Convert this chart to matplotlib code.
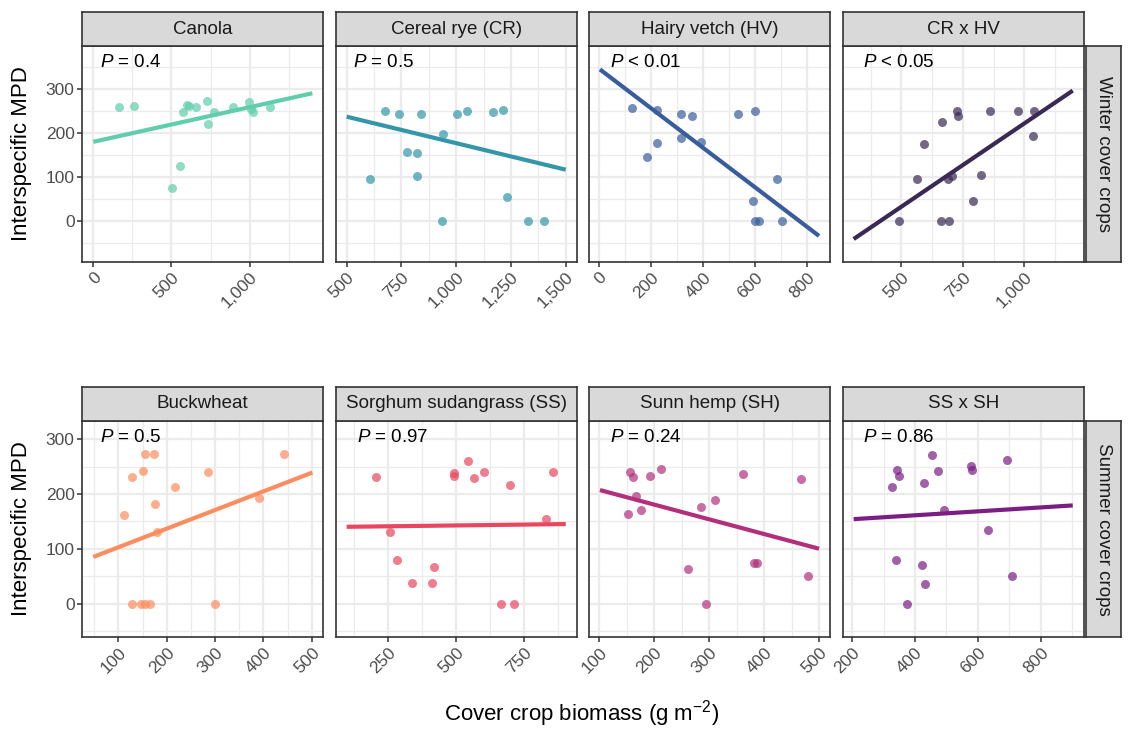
import matplotlib
matplotlib.use("Agg")
import matplotlib.pyplot as plt
from matplotlib.ticker import MultipleLocator, FuncFormatter

plt.rcParams['font.family'] = ['Liberation Sans', 'DejaVu Sans']
plt.rcParams['mathtext.fontset'] = 'custom'
plt.rcParams['mathtext.rm'] = 'Liberation Sans'
plt.rcParams['mathtext.it'] = 'Liberation Sans:italic'

# ---- data ----
crops = ["Canola", "Cereal rye (CR)", "Hairy vetch (HV)", "CR x HV",
         "Buckwheat", "Sorghum sudangrass (SS)", "Sunn hemp (SH)", "SS x SH"]
seasons = ["Winter cover crops", "Summer cover crops"]
p_labels = ["= 0.4", "= 0.5", "< 0.01", "< 0.05",
            "= 0.5", "= 0.97", "= 0.24", "= 0.86"]

canola_x = [166, 261, 501, 557, 576, 597, 613, 659, 726, 731, 773, 896, 996, 1009, 1022, 1132]
canola_y = [258, 262, 75, 125, 248, 264, 262, 259, 273, 220, 248, 260, 271, 254, 248, 260]
cr_x = [606, 673, 739, 774, 821, 821, 838, 935, 939, 1004, 1048, 1167, 1214, 1230, 1329, 1401]
cr_y = [97, 250, 242, 158, 154, 103, 242, 0, 198, 242, 249, 248, 251, 56, 0, 0]
hv_x = [128, 185, 223, 224, 314, 314, 356, 390, 533, 590, 601, 601, 615, 686, 705]
hv_y = [257, 145, 253, 178, 242, 188, 238, 179, 242, 47, 250, 0, 0, 97, 0]
crhv_x = [489, 565, 592, 660, 664, 688, 693, 704, 728, 730, 791, 822, 862, 974, 1035, 1038]
crhv_y = [0, 96, 175, 0, 226, 96, 0, 103, 250, 238, 47, 104, 250, 250, 194, 250]
buck_x = [111, 129, 129, 147, 150, 155, 155, 165, 173, 175, 179, 217, 286, 299, 391, 443]
buck_y = [162, 230, 0, 0, 241, 272, 0, 0, 272, 182, 131, 212, 240, 0, 193, 272]
ss_x = [204, 257, 282, 337, 411, 418, 491, 493, 542, 565, 602, 665, 697, 712, 829, 856]
ss_y = [231, 131, 79, 37, 37, 67, 238, 232, 260, 229, 240, 0, 216, 0, 154, 240]
sh_x = [152, 156, 162, 167, 176, 193, 212, 261, 285, 294, 310, 362, 382, 387, 468, 480]
sh_y = [163, 240, 231, 197, 171, 232, 246, 63, 176, 0, 188, 236, 74, 74, 227, 51]
sssh_x = [327, 339, 342, 350, 375, 422, 429, 431, 453, 474, 491, 578, 582, 632, 692, 710]
sssh_y = [212, 79, 243, 232, 0, 71, 220, 35, 271, 242, 171, 251, 243, 134, 262, 51]

# fitted regression lines (end points)
fit_x = [(0, 1401), (500, 1500), (3, 846), (306, 1197),
         (48, 501), (97, 903), (101, 500), (205, 902)]
fit_y = [(180, 290), (237, 117), (344, -33), (-40, 296),
         (85, 239), (140, 145), (207, 100), (154, 179)]

x_step = [500, 250, 200, 250, 100, 250, 100, 200]
row_ylim = [(-92, 397), (-61, 333)]

colors = ["#60CEAC", "#3497A9", "#395D9C", "#382A54",
          "#FB8D5F", "#E8485F", "#B2307B", "#7A1E84"]

xs = [canola_x, cr_x, hv_x, crhv_x, buck_x, ss_x, sh_x, sssh_x]
ys = [canola_y, cr_y, hv_y, crhv_y, buck_y, ss_y, sh_y, sssh_y]

# ---- layout (pixels) ----
W, H = 1131, 730
def rect(x0, y0, x1, y1):
    return [x0 / W, 1 - y1 / H, (x1 - x0) / W, (y1 - y0) / H]

col_left = [82.3, 335.7, 589, 842.7]
pw, ph, sh_h = 241, 216, 34
row_top = [46, 421]
border = "#333333"

fig = plt.figure(figsize=(W / 100, H / 100), dpi=100)

def strip_axes(r, text, rot=0):
    a = fig.add_axes(r)
    a.set_facecolor("#d9d9d9")
    a.set_xticks([]); a.set_yticks([])
    for s in a.spines.values():
        s.set_color(border); s.set_linewidth(1.2)
    a.text(0.5, 0.5, text, transform=a.transAxes, ha="center", va="center",
           rotation=rot, fontsize=13.5, color="#1a1a1a")
    return a

thousands = FuncFormatter(lambda v, p: f"{int(v):,}")

for i in range(8):
    r, c = divmod(i, 4)
    x0 = col_left[c]; y0 = row_top[r]
    ax = fig.add_axes(rect(x0, y0, x0 + pw, y0 + ph))
    ax.set_facecolor("white")

    lo = min(min(xs[i]), min(fit_x[i])); hi = max(max(xs[i]), max(fit_x[i]))
    pad = (hi - lo) * 0.05
    ax.set_xlim(lo - pad, hi + pad)
    ax.set_ylim(*row_ylim[r])

    ax.xaxis.set_major_locator(MultipleLocator(x_step[i]))
    ax.xaxis.set_minor_locator(MultipleLocator(x_step[i] / 2))
    ax.xaxis.set_major_formatter(thousands)
    ax.yaxis.set_major_locator(MultipleLocator(100))
    ax.yaxis.set_minor_locator(MultipleLocator(50))

    ax.grid(which="major", color="#ebebeb", lw=1.6, zorder=0)
    ax.grid(which="minor", color="#ebebeb", lw=0.9, zorder=0)
    ax.set_axisbelow(True)

    ax.tick_params(which="minor", length=0)
    ax.tick_params(which="major", length=3.5, width=1.1, color=border,
                   labelsize=12.5, labelcolor="#4d4d4d", pad=2)
    if c != 0:
        ax.tick_params(axis="y", which="both", left=False, labelleft=False)
    for lab in ax.get_xticklabels():
        lab.set_rotation(45)
        lab.set_ha("right")
        lab.set_va("top")
        lab.set_rotation_mode("anchor")

    for s in ax.spines.values():
        s.set_color(border); s.set_linewidth(1.2)

    ax.scatter(xs[i], ys[i], s=42, color=colors[i], alpha=0.7,
               linewidths=0, zorder=3)
    ax.plot(fit_x[i], fit_y[i], color=colors[i], lw=3, zorder=4,
            solid_capstyle="butt")

    px = [0.074, 0.07, 0.086, 0.083, 0.074, 0.087, 0.086, 0.083][i]
    ax.text(px, 0.925, r"$P$" + " " + p_labels[i], transform=ax.transAxes,
            ha="left", va="center", fontsize=13.5, color="black", zorder=5)

    strip_axes(rect(x0, y0 - sh_h, x0 + pw, y0), crops[i])

for r in range(2):
    y0 = row_top[r]
    strip_axes(rect(1086, y0, 1120.5, y0 + ph), seasons[r], rot=-90)
    fig.text(22 / W, 1 - (y0 + ph / 2) / H, "Interspecific MPD", rotation=90,
             ha="center", va="center", fontsize=16, color="black")

fig.text(582 / W, 1 - 714 / H, r"Cover crop biomass (g m$^{-2}$)",
         ha="center", va="center", fontsize=16, color="black")

fig.savefig("out.png", dpi=100)
